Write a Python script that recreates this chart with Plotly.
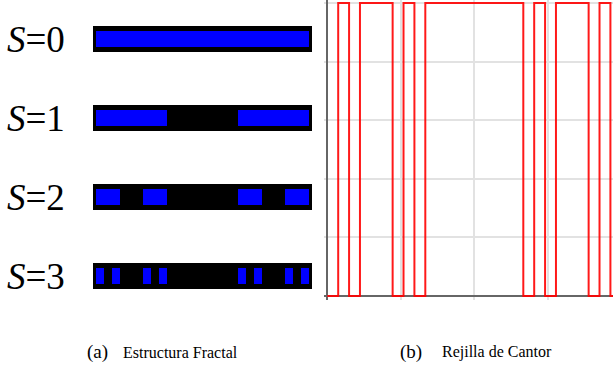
import plotly.graph_objects as go

W, H = 613, 369

# ---------------- data ----------------
# Cantor fractal stages (interval ends in units of 1/27)
stages = [0, 1, 2, 3]
stage_labels = ["<i>S</i>=0", "<i>S</i>=1", "<i>S</i>=2", "<i>S</i>=3"]
cantor_starts = [
    [0],
    [0, 18],
    [0, 6, 18, 24],
    [0, 2, 6, 8, 18, 20, 24, 26],
]
cantor_ends = [
    [27],
    [9, 27],
    [3, 9, 21, 27],
    [1, 3, 7, 9, 19, 21, 25, 27],
]
full_start, full_end = 0, 27

# Cantor grid (Rejilla de Cantor) step signal, x in units of 1/27
grid_edges = [0, 1, 2, 3, 6, 7, 8, 9, 18, 19, 20, 21, 24, 25, 26, 27]
grid_level = [0, 1, 0, 1, 0, 1, 0, 1, 0, 1, 0, 1, 0, 1, 0, 0]

caption_a = ("(a)", "Estructura Fractal")
caption_b = ("(b)", "Rejilla de Cantor")

# ---------------- figure ----------------
fig = go.Figure()

frame_pad = 0.38
for s, st, en in zip(stages, cantor_starts, cantor_ends):
    fig.add_trace(go.Bar(
        orientation="h", y=[s], base=[full_start - frame_pad],
        x=[(full_end - full_start) + 2 * frame_pad], width=0.33,
        marker=dict(color="#000000", line=dict(width=0)),
        xaxis="x", yaxis="y", showlegend=False, hoverinfo="skip"))
    fig.add_trace(go.Bar(
        orientation="h", y=[s] * len(st), base=st,
        x=[e - b for b, e in zip(st, en)], width=0.21,
        marker=dict(color="#0000ff", line=dict(width=0)),
        xaxis="x", yaxis="y", showlegend=False, hoverinfo="skip"))

fig.add_trace(go.Scatter(
    x=grid_edges, y=grid_level, mode="lines", line_shape="hv",
    line=dict(color="rgba(255,0,0,0.9)", width=2),
    xaxis="x2", yaxis="y2", showlegend=False, hoverinfo="skip"))

# left panel axes: 0 -> px 96, 27 -> px 309 ; stage 0 -> py 39, stage 3 -> py 276
sx = (309 - 96) / 27.0
x_dom = [80 / W, 320 / W]
x_rng = [(80 - 96) / sx, (320 - 96) / sx]
sy = (276 - 39) / 3.0
y_rng = [(H - 39) / sy, (0 - 39) / sy]

# right panel axes: x 0 -> px 327.3, 27 -> px 621.3 ; y 0 -> py 296, 1 -> py 3
sx2 = 294 / 27.0
x2_lo = -0.3
x2_dom = [(327.3 + x2_lo * sx2) / W, 1.0]
x2_rng = [x2_lo, (W - 327.3) / sx2]
sy2 = 293.0
y2_rng = [-0.012, 1.01]
y2_dom = [1 - (296 + 0.012 * sy2) / H, 1 - (3 - 0.01 * sy2) / H]

fig.update_layout(
    width=W, height=H,
    margin=dict(l=0, r=0, t=0, b=0),
    paper_bgcolor="white", plot_bgcolor="white",
    barmode="overlay", bargap=0,
    xaxis=dict(domain=x_dom, range=x_rng, visible=False, fixedrange=True),
    yaxis=dict(domain=[0, 1], range=y_rng, visible=False, fixedrange=True),
    xaxis2=dict(domain=x2_dom, range=x2_rng, anchor="y2",
                showgrid=True, gridcolor="#e2e2e2", gridwidth=1.5,
                tick0=0, dtick=6.75, showticklabels=False, ticks="",
                showline=False, zeroline=True, zerolinecolor="#666666",
                zerolinewidth=1.5, fixedrange=True),
    yaxis2=dict(domain=y2_dom, range=y2_rng, anchor="x2",
                showgrid=True, gridcolor="#e2e2e2", gridwidth=1.5,
                tick0=0, dtick=0.2, showticklabels=False, ticks="",
                showline=False, zeroline=True, zerolinecolor="#666666",
                zerolinewidth=1.5, fixedrange=True),
)

serif = "Liberation Serif"
for s, lab in zip(stages, stage_labels):
    fig.add_annotation(text=lab, xref="paper", yref="y", x=36 / W, y=s,
                       xanchor="center", yanchor="middle", showarrow=False,
                       font=dict(family=serif, size=37, color="black"))

cap_y = 1 - 352 / H
for (tag, txt), x_tag, x_txt in [(caption_a, 85, 121), (caption_b, 398, 440)]:
    fig.add_annotation(text=tag, xref="paper", yref="paper", x=x_tag / W, y=cap_y,
                       xanchor="left", yanchor="middle", showarrow=False,
                       font=dict(family=serif, size=19, color="black"))
    fig.add_annotation(text=txt, xref="paper", yref="paper", x=x_txt / W, y=cap_y,
                       xanchor="left", yanchor="middle", showarrow=False,
                       font=dict(family=serif, size=16, color="black"))

fig.write_html("out.html", config={"displayModeBar": False},
               post_script="document.body.style.margin='0px';"
                           "document.body.style.overflow='hidden';")
